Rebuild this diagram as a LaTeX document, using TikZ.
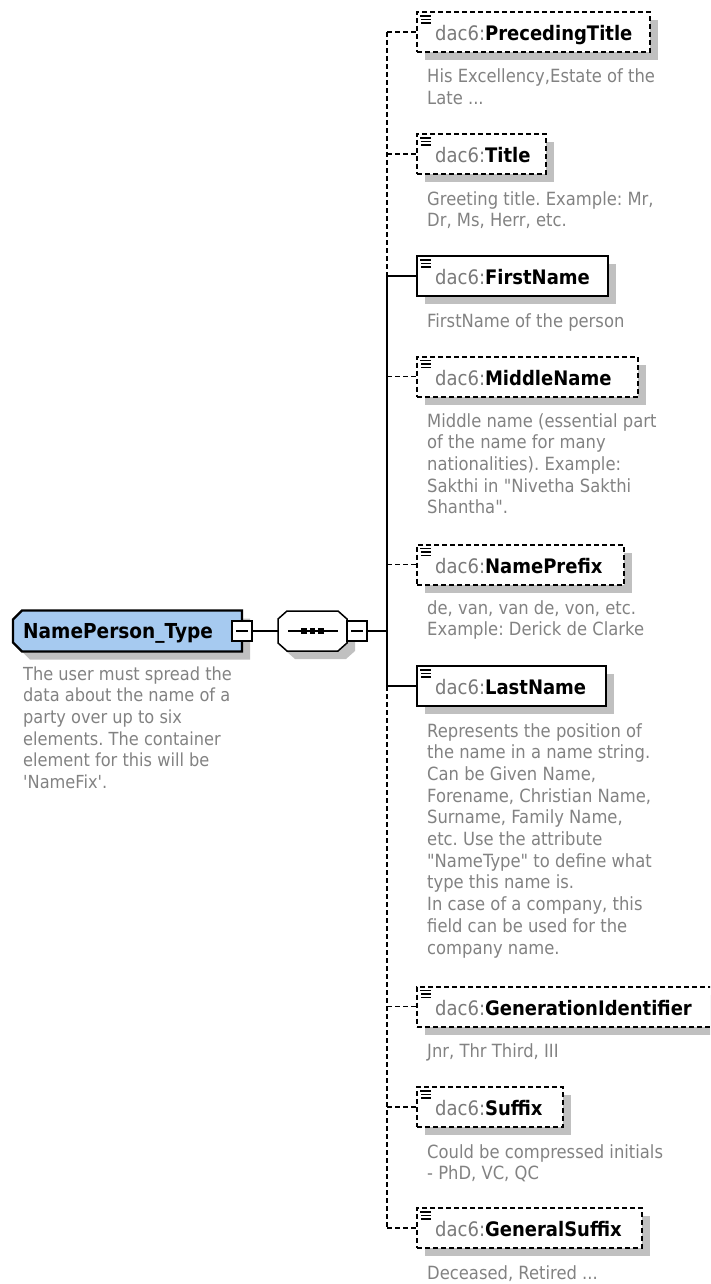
\documentclass[tikz,border=0pt]{standalone}
\usepackage{fontspec}
\usetikzlibrary{shadows}
\newfontfamily\dvs[FakeStretch=0.9]{DejaVu Sans}
\definecolor{descgray}{HTML}{828282}
\definecolor{nsgray}{HTML}{7A7A7A}
\definecolor{shadowgray}{HTML}{C0C0C0}
\definecolor{typeblue}{HTML}{A6CAF0}
\tikzset{
  elembox/.style={rectangle, draw=black, fill=white, line width=2pt, minimum height=40pt,
    inner sep=0pt, outer sep=0pt, anchor=west,
    general shadow={fill=shadowgray, shadow xshift=8pt, shadow yshift=-8pt}},
  reqbox/.style={elembox},
  optbox/.style={elembox, dash pattern=on 5pt off 3pt},
  elemlabel/.style={anchor=base west, inner sep=0pt, font=\dvs\fontsize{20}{24}\selectfont},
  desctext/.style={anchor=base west, inner sep=0pt, text=descgray, font=\dvs\fontsize{18.2}{21.7}\selectfont},
  conn/.style={line width=1.7pt},
  optconn/.style={conn, dash pattern=on 5pt off 3pt},
  iconline/.style={line width=1.1pt},
  minusbox/.style={rectangle, draw=black, fill=white, line width=1.5pt, minimum width=20pt,
    minimum height=20pt, inner sep=0pt, outer sep=0pt},
  geom/.style={rectangle, inner sep=0pt, outer sep=0pt},
}
\newcommand{\elemicon}[1]{%
  \draw[iconline] ([xshift=3pt,yshift=-4pt]#1.north west) -- ++(11,0)
    ([xshift=4pt,yshift=-7.5pt]#1.north west) -- ++(10,0)
    ([xshift=4pt,yshift=-11pt]#1.north west) -- ++(10,0);}
\newcommand{\elemname}[1]{{\color{nsgray}dac6:}\textbf{#1}}
\newcommand{\desclines}[1]{\parbox[t]{300pt}{\raggedright\frenchspacing #1}}
\begin{document}
\begin{tikzpicture}[x=1pt,y=-1pt]
\useasboundingbox (0,0) rectangle (710,1284);
\clip (0,0) rectangle (710,1284);

% ---- root type box
\node[geom, minimum width=229pt, minimum height=41pt, anchor=west] (npt) at (13,631) {};
\fill[shadowgray] ([xshift=17pt,yshift=-8pt]npt.north west) -- ([xshift=8pt,yshift=-8pt]npt.north east)
  -- ([xshift=8pt,yshift=-8pt]npt.south east) -- ([xshift=17pt,yshift=-8pt]npt.south west)
  -- ([xshift=8pt,yshift=1pt]npt.south west) -- ([xshift=8pt,yshift=-17pt]npt.north west) -- cycle;
\draw[fill=typeblue, line width=2.2pt] ([xshift=9pt]npt.north west) -- (npt.north east) -- (npt.south east)
  -- ([xshift=9pt]npt.south west) -- ([yshift=9pt]npt.south west) -- ([yshift=-9pt]npt.north west) -- cycle;
\node[anchor=base west, inner sep=0pt, font=\dvs\bfseries\fontsize{20.6}{24}\selectfont] (npt-l) at (23,638.5) {NamePerson\_Type};
\node[minusbox] (m1) at (242,631) {};
\draw[line width=1.5pt] ([xshift=4pt]m1.west) -- ([xshift=-4pt]m1.east);
\node[desctext, font=\dvs\fontsize{18}{21.7}\selectfont] (npt-d) at (23,680) {\desclines{The user must spread the\\data about the name of a\\party over up to six\\elements. The container\\element for this will be\\'NameFix'.}};

% ---- sequence compositor
\node[geom, minimum width=69pt, minimum height=40pt] (seq) at (312.5,631) {};
\fill[shadowgray] ([xshift=17pt,yshift=-8pt]seq.north west) -- ([xshift=-1pt,yshift=-8pt]seq.north east)
  -- ([xshift=8pt,yshift=-16pt]seq.north east) -- ([xshift=8pt,yshift=0pt]seq.south east)
  -- ([xshift=-1pt,yshift=-8pt]seq.south east) -- ([xshift=17pt,yshift=-8pt]seq.south west)
  -- ([xshift=8pt,yshift=0pt]seq.south west) -- ([xshift=8pt,yshift=-16pt]seq.north west) -- cycle;
\draw[fill=white, line width=1.5pt] ([xshift=9pt]seq.north west) -- ([xshift=-9pt]seq.north east)
  -- ([yshift=-8pt]seq.north east) -- ([yshift=8pt]seq.south east) -- ([xshift=-9pt]seq.south east)
  -- ([xshift=9pt]seq.south west) -- ([yshift=8pt]seq.south west) -- ([yshift=-8pt]seq.north west) -- cycle;
\draw[line width=1.5pt] ([xshift=10pt]seq.west) -- ([xshift=-9pt]seq.east);
\foreach \d in {-8.5,0,8.5} \fill ([xshift=\d pt]seq.center) +(-2.7,-2.7) rectangle +(2.7,2.7);
\node[minusbox] (m2) at (357,631) {};
\draw[line width=1.5pt] ([xshift=4pt]m2.west) -- ([xshift=-4pt]m2.east);

\draw[conn] (m1.east) -- (seq.west);
\coordinate (spine) at (387,631);
\draw[conn] (m2.east) -- (spine);

% ---- child elements
\node[optbox, minimum width=233pt] (ptitle) at (417,32) {};
\node[optbox, minimum width=129pt] (title) at (417,154) {};
\node[reqbox, minimum width=191pt] (fname) at (417,276) {};
\node[optbox, minimum width=221pt] (mname) at (417,376.5) {};
\node[optbox, minimum width=207pt] (nprefix) at (417,564.5) {};
\node[reqbox, minimum width=189pt] (lname) at (417,686) {};
\node[optbox, minimum width=296pt] (genid) at (417,1006.5) {};
\node[optbox, minimum width=146pt] (suffix) at (417,1107) {};
\node[optbox, minimum width=225pt] (gsuffix) at (417,1228) {};

\foreach \n in {ptitle,title,fname,mname,nprefix,lname,genid,suffix,gsuffix} {\elemicon{\n}}

\node[elemlabel] (ptitle-l) at ([xshift=18pt,yshift=-8.5pt]ptitle.west) {\elemname{PrecedingTitle}};
\node[elemlabel] (title-l) at ([xshift=18pt,yshift=-8.5pt]title.west) {\elemname{Title}};
\node[elemlabel] (fname-l) at ([xshift=18pt,yshift=-8.5pt]fname.west) {\elemname{FirstName}};
\node[elemlabel] (mname-l) at ([xshift=18pt,yshift=-8.5pt]mname.west) {\elemname{MiddleName}};
\node[elemlabel] (nprefix-l) at ([xshift=18pt,yshift=-8.5pt]nprefix.west) {\elemname{NamePrefix}};
\node[elemlabel] (lname-l) at ([xshift=18pt,yshift=-8.5pt]lname.west) {\elemname{LastName}};
\node[elemlabel] (genid-l) at ([xshift=18pt,yshift=-8.5pt]genid.west) {\elemname{GenerationIdentifier}};
\node[elemlabel] (suffix-l) at ([xshift=18pt,yshift=-8.5pt]suffix.west) {\elemname{Suffix}};
\node[elemlabel] (gsuffix-l) at ([xshift=18pt,yshift=-8.5pt]gsuffix.west) {\elemname{GeneralSuffix}};

% ---- descriptions
\node[desctext] (ptitle-d) at (427,83) {\desclines{His Excellency,Estate of the\\Late ...}};
\node[desctext] (title-d) at (427,205) {\desclines{Greeting title. Example: Mr,\\Dr, Ms, Herr, etc.}};
\node[desctext] (fname-d) at (427,327) {\desclines{FirstName of the person}};
\node[desctext] (mname-d) at (427,427) {\desclines{Middle name (essential part\\of the name for many\\nationalities). Example:\\Sakthi in "Nivetha Sakthi\\Shantha".}};
\node[desctext] (nprefix-d) at (427,614) {\desclines{de, van, van de, von, etc.\\Example: Derick de Clarke}};
\node[desctext] (lname-d) at (427,737) {\desclines{Represents the position of\\the name in a name string.\\Can be Given Name,\\Forename, Christian Name,\\Surname, Family Name,\\etc. Use the attribute\\"NameType" to define what\\type this name is.\\In case of a company, this\\field can be used for the\\company name.}};
\node[desctext] (genid-d) at (427,1057.5) {\desclines{Jnr, Thr Third, III}};
\node[desctext] (suffix-d) at (427,1158) {\desclines{Could be compressed initials\\- PhD, VC, QC}};
\node[desctext] (gsuffix-d) at (427,1279) {\desclines{Deceased, Retired ...}};

% ---- spine and connectors
\draw[optconn] (spine |- ptitle.west) -- (spine |- fname.west);
\draw[conn] (spine |- fname.west) -- (spine |- lname.west);
\draw[optconn] (spine |- lname.west) -- (spine |- gsuffix.west);
\draw[optconn] (spine |- ptitle.west) -- (ptitle.west);
\draw[optconn] (spine |- title.west) -- (title.west);
\draw[conn] (spine |- fname.west) -- (fname.west);
\draw[optconn] (spine |- mname.west) -- (mname.west);
\draw[optconn] (spine |- nprefix.west) -- (nprefix.west);
\draw[conn] (spine |- lname.west) -- (lname.west);
\draw[optconn] (spine |- genid.west) -- (genid.west);
\draw[optconn] (spine |- suffix.west) -- (suffix.west);
\draw[optconn] (spine |- gsuffix.west) -- (gsuffix.west);
\end{tikzpicture}
\end{document}
